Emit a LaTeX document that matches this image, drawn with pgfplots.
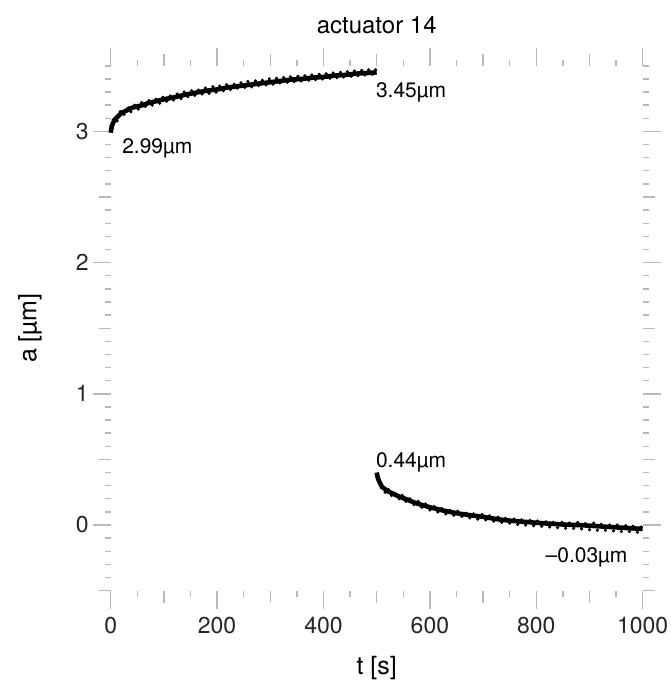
\documentclass[border=0pt]{standalone}
\usepackage{fontspec}
\setmainfont{TeX Gyre Heros}
\usepackage{pgfplots}
\pgfplotsset{compat=1.18}
\begin{document}
\begin{tikzpicture}
\useasboundingbox (-55.35pt,-50.2pt) rectangle (279.65pt,295.3pt);
\begin{axis}[
  scale only axis, width=266pt, height=262.4pt,
  xmin=0, xmax=1000, ymin=-0.5, ymax=3.5,
  clip=false,
  axis line style={draw=none},
  tick align=outside,
  tick style={gray!55, line width=0.7pt},
  major tick length=9pt, minor tick length=3pt,
  xtick={0,200,...,1000},
  minor xtick={0,50,...,1000},
  extra x ticks={100,300,500,700,900},
  extra x tick labels={},
  extra x tick style={major tick length=6pt},
  ytick={0,1,2,3},
  minor ytick={-0.5,-0.4,...,3.45},
  extra y ticks={-0.5,0.5,1.5,2.5},
  extra y tick labels={},
  extra y tick style={major tick length=6pt},
  /pgf/number format/assume math mode=true,
  /pgf/number format/1000 sep={},
  tick label style={font=\fontsize{11.5}{13}\selectfont, text=black!85},
  xticklabel style={yshift=-1pt},
  yticklabel style={xshift=1.5pt},
]
% core curves
\addplot[black, line width=2.3pt] coordinates {
(0,2.99)(2,3.04)(5,3.07)(10,3.10)(15,3.12)(20,3.14)(30,3.16)(40,3.18)(50,3.19)
(60,3.20)(70,3.215)(80,3.225)(90,3.235)(100,3.245)(120,3.26)(140,3.28)(160,3.295)
(180,3.31)(200,3.32)(220,3.335)(240,3.345)(260,3.355)(280,3.365)(300,3.375)
(320,3.385)(340,3.395)(360,3.40)(380,3.41)(400,3.415)(420,3.425)(440,3.43)
(460,3.44)(480,3.445)(500,3.45)
};
\addplot[black, line width=2.3pt] coordinates {
(500,0.40)(502,0.36)(505,0.33)(510,0.29)(520,0.26)(530,0.24)(540,0.22)(550,0.205)
(575,0.165)(600,0.135)(625,0.11)(650,0.09)(675,0.075)(700,0.062)(725,0.045)
(750,0.033)(775,0.025)(800,0.017)(825,0.01)(850,0.004)(875,0.0)(900,-0.005)
(925,-0.012)(950,-0.018)(975,-0.024)(1000,-0.03)
};
% scatter of the measured points around the curves
\addplot[only marks, mark=*, mark size=0.6pt, black] coordinates {
(5,3.09)(12,3.08)(18,3.15)(25,3.13)(33,3.18)(38,3.15)(45,3.20)(52,3.17)(58,3.22)
(65,3.19)(72,3.235)(78,3.20)(85,3.245)(92,3.215)(98,3.26)(105,3.23)(112,3.27)
(118,3.24)(125,3.285)(132,3.25)(138,3.30)(145,3.265)(152,3.31)(158,3.275)
(165,3.315)(172,3.285)(178,3.33)(185,3.29)(192,3.34)(198,3.30)(205,3.345)
(212,3.31)(218,3.355)(225,3.32)(232,3.36)(238,3.33)(245,3.37)(252,3.335)
(258,3.38)(265,3.34)(272,3.385)(278,3.35)(285,3.39)(292,3.355)(298,3.40)
(305,3.36)(312,3.405)(318,3.37)(325,3.41)(332,3.375)(338,3.415)(345,3.38)
(352,3.42)(358,3.385)(365,3.425)(372,3.39)(378,3.43)(385,3.395)(392,3.435)
(398,3.40)(405,3.44)(412,3.405)(418,3.445)(425,3.41)(432,3.45)(438,3.415)
(445,3.455)(452,3.42)(458,3.46)(465,3.425)(472,3.465)(478,3.43)(485,3.47)
(492,3.435)(498,3.47)
(503,0.36)(507,0.30)(512,0.29)(516,0.25)(522,0.27)(528,0.225)(535,0.24)(542,0.20)
(548,0.225)(555,0.18)(562,0.20)(570,0.155)(578,0.18)(585,0.135)(592,0.16)
(600,0.115)(608,0.14)(615,0.10)(622,0.125)(630,0.085)(638,0.11)(645,0.075)
(652,0.105)(660,0.065)(668,0.09)(675,0.055)(682,0.085)(690,0.045)(698,0.08)
(705,0.04)(712,0.07)(720,0.03)(728,0.06)(735,0.02)(742,0.05)(750,0.015)
(758,0.045)(765,0.005)(772,0.04)(780,0.0)(788,0.035)(795,-0.005)(802,0.03)
(810,-0.01)(818,0.025)(825,-0.015)(832,0.02)(840,-0.02)(848,0.02)(855,-0.025)
(862,0.015)(870,-0.025)(878,0.02)(885,-0.03)(892,0.01)(900,-0.035)(908,0.015)
(915,-0.04)(922,0.005)(930,-0.04)(938,0.0)(945,-0.045)(952,0.0)(960,-0.05)
(968,-0.005)(975,-0.05)(982,-0.01)(990,-0.055)(997,-0.015)
};
% annotations
\node[anchor=west, inner sep=0pt, font=\fontsize{10.5}{12}\selectfont] at (axis cs:21,2.87) {2.99µm};
\node[anchor=west, inner sep=0pt, font=\fontsize{10.5}{12}\selectfont] at (axis cs:498,3.30) {3.45µm};
\node[anchor=west, inner sep=0pt, font=\fontsize{10.5}{12}\selectfont] at (axis cs:498,0.48) {0.44µm};
\node[anchor=east, inner sep=0pt, font=\fontsize{10.5}{12}\selectfont] at (axis cs:972,-0.245) {–0.03µm};
% title and axis labels
\node[font=\fontsize{12}{14}\selectfont] at ([yshift=20.5pt]rel axis cs:0.5,1) {actuator 14};
\node[font=\fontsize{12.5}{14}\selectfont] at ([yshift=-38.7pt]rel axis cs:0.5,0) {t [s]};
\node[font=\fontsize{12.5}{14}\selectfont, rotate=90] at ([xshift=-40.3pt]rel axis cs:0,0.5) {a [µm]};
\end{axis}
\end{tikzpicture}
\end{document}
